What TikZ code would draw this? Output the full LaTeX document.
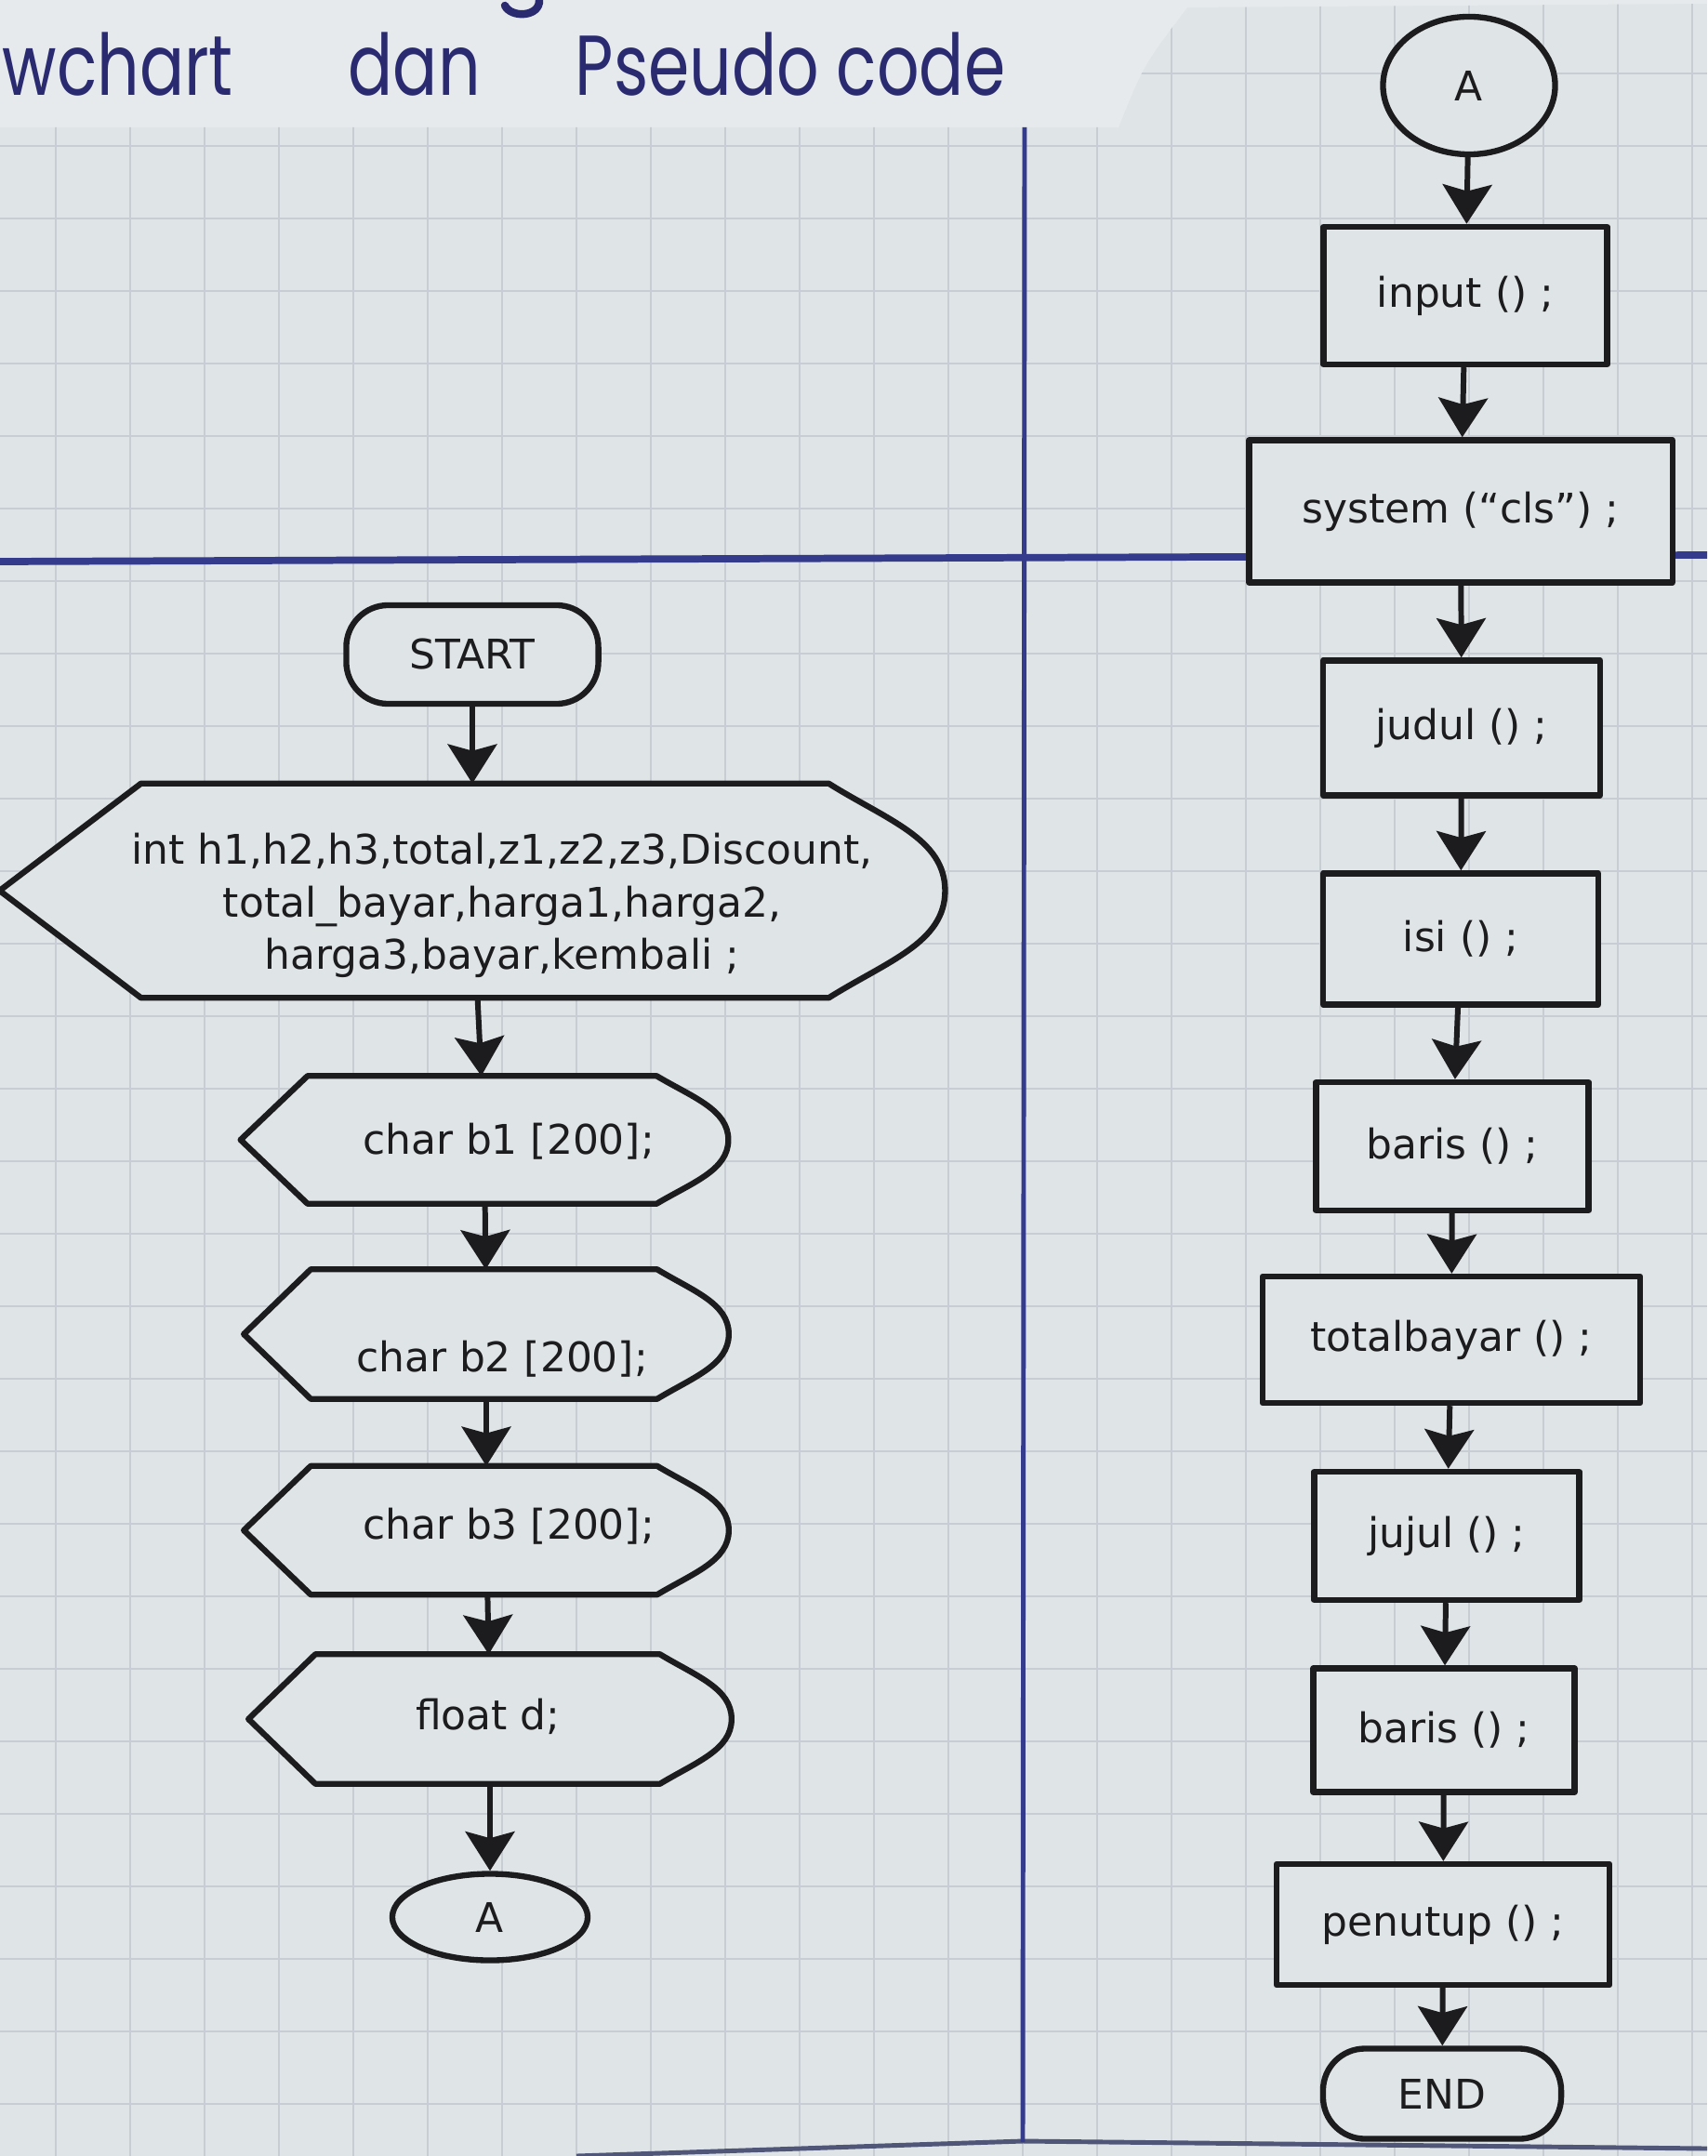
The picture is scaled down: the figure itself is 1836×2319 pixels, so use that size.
\documentclass[tikz,border=0pt]{standalone}
\usepackage{fontspec}
\setmainfont{DejaVu Sans}
\newfontfamily\handfont{Poppins}
\usetikzlibrary{arrows.meta,shapes.geometric}

\definecolor{paper}{RGB}{223,228,231}
\definecolor{paperhead}{RGB}{230,234,236}
\definecolor{gridc}{RGB}{199,205,210}
\definecolor{ink}{RGB}{28,28,30}
\definecolor{bluepen}{RGB}{42,42,112}
\definecolor{marginc}{RGB}{52,58,140}
\definecolor{edgec}{RGB}{80,86,120}

\newcommand\flowfont{\fontsize{12.5}{16}\selectfont}
\newcommand\dispshape[4]{%
  \path[shapeline] (#1.west) -- ([xshift=#2cm]#1.north west) -- ([xshift=-#3cm]#1.north east)
    .. controls ([xshift={-0.5*#3cm},yshift={-0.35*#4cm}]#1.north east) and ([yshift={0.5*#4cm}]#1.east) .. (#1.east)
    .. controls ([yshift={-0.5*#4cm}]#1.east) and ([xshift={-0.5*#3cm},yshift={0.35*#4cm}]#1.south east) .. ([xshift=-#3cm]#1.south east)
    -- ([xshift=#2cm]#1.south west) -- cycle;}

\begin{document}
\begin{tikzpicture}[x=0.01cm,y=-0.01cm,
  shapeline/.style={draw=ink, line width=1.8pt, fill=paper, line join=round},
  frame/.style={draw=none, fill=none, rectangle, inner sep=0pt, outer sep=0.9pt},
  procbox/.style={shapeline, rectangle, inner sep=0pt, text=ink, font=\flowfont},
  termbox/.style={shapeline, rectangle, rounded corners=0.45cm, inner sep=0pt, text=ink, font=\flowfont},
  connode/.style={shapeline, ellipse, inner sep=0pt, text=ink, font=\flowfont},
  label/.style={text=ink, font=\flowfont, inner sep=0pt},
  arr/.style={draw=ink, line width=1.7pt, -{Stealth[width=15pt,length=12pt,inset=2pt]}},
  gridline/.style={draw=gridc, line width=0.6pt},
  title/.style={text=bluepen, font=\handfont\fontsize{26}{30}\selectfont, inner sep=0pt, anchor=base west}]

\useasboundingbox (0,0) rectangle (1836,2319);
% paper
\fill[paper] (0,0) rectangle (1836,2319);
\fill[paperhead] (0,0) -- (1836,0) -- (1836,4) -- (1277,8) .. controls (1230,70) .. (1203,137) -- (0,137) -- cycle;
\begin{scope}
  \clip (0,137) -- (1203,137) .. controls (1230,70) .. (1277,8) -- (1836,4) -- (1836,2319) -- (0,2319) -- cycle;
  \foreach \i in {0,...,22} \draw[gridline] (60+80*\i,0) -- (60+80*\i,2319);
  \foreach \j in {-1,...,28} \draw[gridline] (0,157+78*\j) -- (1836,157+78*\j);
\end{scope}
\draw[edgec, line width=1.4pt] (620,2319) -- (1100,2303) -- (1836,2311);

% margin lines
\draw[marginc, line width=1.4pt] (1102,137) -- (1100,2304);
\draw[marginc, line width=2.2pt] (0,604) -- (1836,597);

% title
\node[title] (tw) at (2,103) {\scalebox{0.78}[1]{wchart}};
\node[title] (td) at (374,103) {\scalebox{0.78}[1]{dan}};
\node[title] (tp) at (618,103) {\scalebox{0.78}[1]{Pseudo code}};
\draw[bluepen, line width=2.4pt, line cap=round] (580,0) .. controls (581,18) and (550,20) .. (543,6);

% ---------- left column ----------
\node[termbox, minimum width=2.71cm, minimum height=1.06cm] (start) at (508,704) {START};

\node[frame, minimum width=10.10cm, minimum height=2.24cm] (decl) at (508,958) {};
\dispshape{decl}{1.52}{1.25}{1.12}
\node[label, align=center] (declt) at (540,974) {int h1,h2,h3,total,z1,z2,z3,Discount,\\ total\_bayar,harga1,harga2,\\ harga3,bayar,kembali ;};

\node[frame, minimum width=5.18cm, minimum height=1.31cm] (b1) at (521,1226) {};
\dispshape{b1}{0.72}{0.77}{0.655}
\node[label] (b1t) at (547,1228) {char b1 [200];};

\node[frame, minimum width=5.15cm, minimum height=1.33cm] (b2) at (523,1435) {};
\dispshape{b2}{0.72}{0.77}{0.665}
\node[label] (b2t) at (540,1462) {char b2 [200];};

\node[frame, minimum width=5.15cm, minimum height=1.32cm] (b3) at (523,1646) {};
\dispshape{b3}{0.72}{0.77}{0.66}
\node[label] (b3t) at (547,1642) {char b3 [200];};

\node[frame, minimum width=5.13cm, minimum height=1.33cm] (fd) at (527,1849) {};
\dispshape{fd}{0.72}{0.77}{0.665}
\node[label] (fdt) at (525,1846) {float d;};

\node[connode, minimum width=2.10cm, minimum height=0.93cm] (al) at (527,2062) {A};

\draw[arr] (start) -- (decl);
\draw[arr] (decl) -- (b1);
\draw[arr] (b1) -- (b2);
\draw[arr] (b2) -- (b3);
\draw[arr] (b3) -- (fd);
\draw[arr] (fd) -- (al);

% ---------- right column ----------
\node[connode, minimum width=1.85cm, minimum height=1.48cm] (ar) at (1580,92) {A};
\node[procbox, minimum width=3.05cm, minimum height=1.48cm] (input) at (1576,318) {input () ;};
\node[procbox, minimum width=4.55cm, minimum height=1.53cm] (sys) at (1571,550) {system (“cls") ;};
\node[procbox, minimum width=2.98cm, minimum height=1.45cm] (judul) at (1572,783) {judul () ;};
\node[procbox, minimum width=2.96cm, minimum height=1.41cm] (isi) at (1571,1010) {isi () ;};
\node[procbox, minimum width=2.93cm, minimum height=1.38cm] (baris1) at (1562,1233) {baris () ;};
\node[procbox, minimum width=4.06cm, minimum height=1.36cm] (tb) at (1561,1441) {totalbayar () ;};
\node[procbox, minimum width=2.85cm, minimum height=1.38cm] (jujul) at (1556,1652) {jujul () ;};
\node[procbox, minimum width=2.81cm, minimum height=1.33cm] (baris2) at (1553,1861) {baris () ;};
\node[procbox, minimum width=3.58cm, minimum height=1.30cm] (pen) at (1552,2070) {penutup () ;};
\node[termbox, minimum width=2.56cm, minimum height=0.97cm] (end) at (1551,2252) {END};

\draw[arr] (ar) -- (input);
\draw[arr] (input) -- (sys);
\draw[arr] (sys) -- (judul);
\draw[arr] (judul) -- (isi);
\draw[arr] (isi) -- (baris1);
\draw[arr] (baris1) -- (tb);
\draw[arr] (tb) -- (jujul);
\draw[arr] (jujul) -- (baris2);
\draw[arr] (baris2) -- (pen);
\draw[arr] (pen) -- (end);
\end{tikzpicture}
\end{document}
